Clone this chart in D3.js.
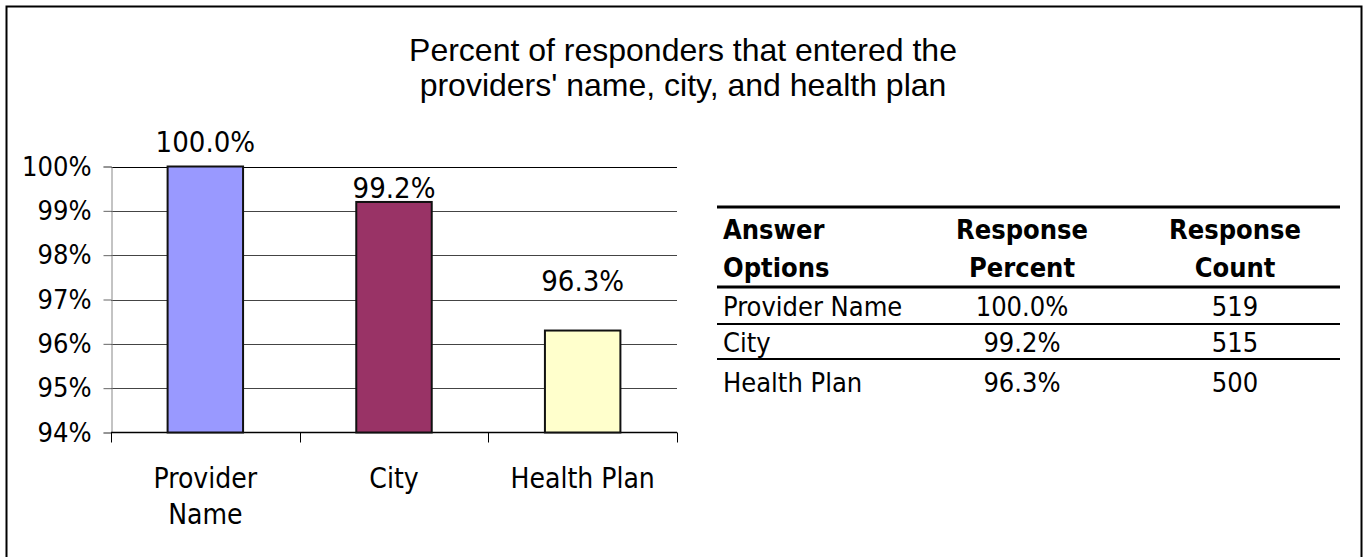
<!DOCTYPE html>
<html>
<head>
<meta charset="utf-8">
<script src="https://cdn.jsdelivr.net/npm/d3@7"></script>
<style>
  html, body { margin: 0; padding: 0; background: #fff; }
  svg { display: block; }
  .tah { font-family: "DejaVu Sans Condensed", "DejaVu Sans", sans-serif; font-stretch: condensed; }
  .ttl { font-family: "Liberation Sans", Arial, sans-serif; }
</style>
</head>
<body>
<svg id="chart" width="1363" height="557"></svg>
<script>
// Survey answers
const categories = ["Provider Name", "City", "Health Plan"];
const categoryLines = [["Provider", "Name"], ["City"], ["Health Plan"]];
const responsePercent = [100.0, 99.2, 96.3];
const responseCount = [519, 515, 500];
const barColors = ["#9999FF", "#993366", "#FFFFCC"];
const yTicks = [94, 95, 96, 97, 98, 99, 100];
const titleLines = ["Percent of responders that entered the", "providers' name, city, and health plan"];
const tableHeader = [["Answer", "Options"], ["Response", "Percent"], ["Response", "Count"]];

// Vertical lift of each value label above its bar
const labelLift = [15, 4, 40];

const svg = d3.select("#chart");

// Outer frame
svg.append("rect")
  .attr("x", 6.5).attr("y", 6.5)
  .attr("width", 1355).attr("height", 600)
  .attr("fill", "none").attr("stroke", "#000").attr("stroke-width", 2);

// Title
svg.append("g").selectAll("text").data(titleLines).join("text")
  .attr("class", "ttl")
  .attr("x", 683)
  .attr("y", (d, i) => 61 + i * 35)
  .attr("text-anchor", "middle")
  .attr("font-size", 32)
  .attr("fill", "#000")
  .text(d => d);

// Scales
const plot = { left: 111, right: 677, top: 166.5, bottom: 432.5 };
const x = d3.scaleBand().domain(categories).range([plot.left, plot.right]).padding(0);
const y = d3.scaleLinear().domain([94, 100]).range([plot.bottom, plot.top]);
const barW = x.bandwidth() * 0.4;

// Gridlines
svg.append("g").selectAll("line").data(yTicks.slice(1)).join("line")
  .attr("x1", plot.left).attr("x2", plot.right)
  .attr("y1", d => Math.round(y(d)) + 0.5).attr("y2", d => Math.round(y(d)) + 0.5)
  .attr("stroke", d => d === 100 ? "#000" : "#444")
  .attr("stroke-width", 1);

// Y axis
const yAxis = svg.append("g")
  .attr("transform", `translate(${plot.left + 0.5},0)`)
  .call(d3.axisLeft(y).tickValues(yTicks).tickFormat(d => d + "%").tickSize(8).tickPadding(12));
yAxis.select(".domain").attr("stroke", "#888");
yAxis.selectAll(".tick line").attr("stroke", "#666");
yAxis.selectAll(".tick text")
  .attr("class", "tah").attr("font-size", 27).attr("fill", "#000");
yAxis.attr("font-family", null);

// X axis with boundary ticks
const xg = svg.append("g");
xg.append("line")
  .attr("x1", plot.left).attr("x2", plot.right)
  .attr("y1", plot.bottom).attr("y2", plot.bottom)
  .attr("stroke", "#000").attr("stroke-width", 1.5);
const bounds = categories.map(c => x(c)).concat([x(categories[categories.length - 1]) + x.bandwidth()]);
xg.selectAll("line.tk").data(bounds).join("line")
  .attr("class", "tk")
  .attr("x1", d => Math.round(d) + 0.5).attr("x2", d => Math.round(d) + 0.5)
  .attr("y1", plot.bottom).attr("y2", plot.bottom + 10)
  .attr("stroke", "#000").attr("stroke-width", 1);

// Category labels
categories.forEach((c, i) => {
  svg.append("text")
    .attr("class", "tah")
    .attr("x", x(c) + x.bandwidth() / 2)
    .attr("y", 488)
    .attr("text-anchor", "middle")
    .attr("font-size", 28)
    .attr("fill", "#000")
    .selectAll("tspan").data(categoryLines[i]).join("tspan")
    .attr("x", x(c) + x.bandwidth() / 2)
    .attr("dy", (d, j) => j === 0 ? 0 : 36)
    .text(d => d);
});

// Bars
svg.append("g").selectAll("rect").data(categories).join("rect")
  .attr("x", d => x(d) + (x.bandwidth() - barW) / 2)
  .attr("y", (d, i) => y(responsePercent[i]))
  .attr("width", barW)
  .attr("height", (d, i) => y(94) - y(responsePercent[i]))
  .attr("fill", (d, i) => barColors[i])
  .attr("stroke", "#111")
  .attr("stroke-width", 2);

// Value labels
svg.append("g").selectAll("text").data(categories).join("text")
  .attr("class", "tah")
  .attr("x", d => x(d) + x.bandwidth() / 2)
  .attr("y", (d, i) => y(responsePercent[i]) - labelLift[i])
  .attr("text-anchor", "middle")
  .attr("font-size", 29)
  .attr("fill", "#000")
  .text((d, i) => responsePercent[i].toFixed(1) + "%");

// Summary table
const tbl = svg.append("g");
const tx = { left: 717, right: 1340, c0: 723, c1: 1022, c2: 1235 };
const rules = [{ y: 207, w: 3 }, { y: 287, w: 3 }, { y: 324, w: 2 }, { y: 359, w: 2 }];
tbl.selectAll("line").data(rules).join("line")
  .attr("x1", tx.left).attr("x2", tx.right)
  .attr("y1", d => d.y).attr("y2", d => d.y)
  .attr("stroke", "#000").attr("stroke-width", d => d.w);

const colX = [tx.c0, tx.c1, tx.c2];
const colAnchor = ["start", "middle", "middle"];
tableHeader.forEach((lines, ci) => {
  lines.forEach((t, li) => {
    tbl.append("text")
      .attr("class", "tah")
      .attr("x", colX[ci])
      .attr("y", 239 + li * 38)
      .attr("text-anchor", colAnchor[ci])
      .attr("font-size", 27)
      .attr("font-weight", "bold")
      .attr("fill", "#000")
      .text(t);
  });
});
const rowBase = [316, 352, 392];
categories.forEach((c, ri) => {
  const cells = [c, responsePercent[ri].toFixed(1) + "%", String(responseCount[ri])];
  cells.forEach((t, ci) => {
    tbl.append("text")
      .attr("class", "tah")
      .attr("x", colX[ci])
      .attr("y", rowBase[ri])
      .attr("text-anchor", colAnchor[ci])
      .attr("font-size", 27)
      .attr("fill", "#000")
      .text(t);
  });
});
</script>
</body>
</html>
